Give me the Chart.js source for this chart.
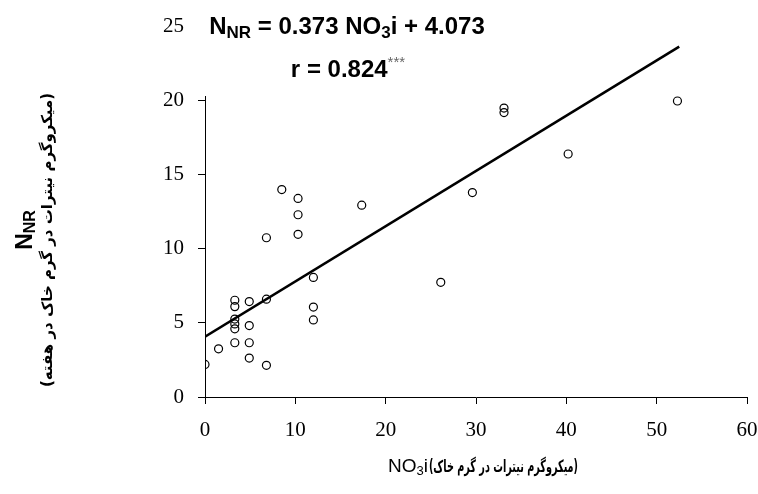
<!DOCTYPE html>
<html lang="fa">
<head>
  <meta charset="UTF-8" />
  <title>NNR vs NO3i</title>
  <script src="https://cdn.jsdelivr.net/npm/chart.js"></script>
  <style>
    html, body { margin: 0; padding: 0; background: #fff; }
    canvas { display: block; }
  </style>
</head>
<body>
  <canvas id="chart" width="758" height="494"></canvas>

  <script>
    // نقاط مشاهده شده
    const no3i = [0, 1.5, 3.3, 3.3, 3.3, 3.3, 3.3, 3.3, 4.9, 4.9, 4.9, 4.9,
                  6.8, 6.8, 6.8, 8.5, 10.3, 10.3, 10.3, 12.0, 12.0, 12.0,
                  17.35, 26.1, 29.6, 33.1, 33.1, 40.2, 52.3];
    const nnr = [2.2, 3.25, 6.53, 6.1, 5.26, 4.93, 4.6, 3.66, 6.44, 4.82, 3.66, 2.63,
                 6.6, 2.14, 10.75, 14.0, 13.4, 12.3, 10.98, 8.07, 6.07, 5.2,
                 12.95, 7.74, 13.8, 19.5, 19.2, 16.4, 19.98];

    // خط رگرسیون (دو سر خط)
    const fitX = [0, 52.5];
    const fitY = [4.07, 23.65];

    const xTicks = [0, 10, 20, 30, 40, 50, 60];
    const yTicks = [0, 5, 10, 15, 20, 25];

    const eqLine1 = [["N", "n"], ["NR", "sub"], [" = 0.373 NO", "n"], ["3", "sub"], ["i + 4.073", "n"]];
    const eqLine2 = [["r = 0.824", "n"], ["***", "sup"]];
    const yTitle1 = [["N", "n"], ["NR", "sub"]];
    const yTitle2 = "(میکروگرم نیترات در گرم خاک در هفته)";
    const xTitle1 = [["NO", "n"], ["3", "sub"], ["i", "n"]];
    const xTitle2 = "(میکروگرم نیترات در گرم خاک)";

    const SANS = "'Liberation Sans', Arial, sans-serif";
    const FA = "bold 15px 'DejaVu Sans', sans-serif";

    function runFont(kind, size, weight) {
      if (kind === "sub") return weight + " " + Math.round(size * 0.7) + "px " + SANS;
      if (kind === "sup") return "normal " + Math.round(size * 0.62) + "px " + SANS;
      return weight + " " + size + "px " + SANS;
    }

    // اندازه کل یک سطر با زیرنویس
    function runsWidth(ctx, runs, size, weight) {
      let w = 0;
      runs.forEach(([t, k]) => { ctx.font = runFont(k, size, weight); w += ctx.measureText(t).width; });
      return w;
    }

    function drawRuns(ctx, runs, x, y, size, weight, align) {
      const w = runsWidth(ctx, runs, size, weight);
      let cx = align === "left" ? x : x - w / 2;
      ctx.textAlign = "left";
      ctx.textBaseline = "alphabetic";
      runs.forEach(([t, k]) => {
        ctx.font = runFont(k, size, weight);
        let dy = 0;
        ctx.fillStyle = "#000";
        if (k === "sub") dy = size * 0.15;
        if (k === "sup") { dy = -size * 0.42; ctx.fillStyle = "#666"; }
        ctx.fillText(t, cx, y + dy);
        cx += ctx.measureText(t).width;
      });
      return w;
    }

    const textPlugin = {
      id: "texts",
      afterDraw(chart) {
        const ctx = chart.ctx;
        ctx.save();
        // کادر سفید معادله روی بالای محور
        ctx.fillStyle = "#fff";
        ctx.fillRect(188, 0, 312, 96);

        drawRuns(ctx, eqLine1, 347, 34, 24, "bold");
        drawRuns(ctx, eqLine2, 348, 77, 24, "bold");

        // عنوان محور عمودی
        ctx.save();
        ctx.translate(32, 230);
        ctx.rotate(-Math.PI / 2);
        drawRuns(ctx, yTitle1, 0, 0, 23, "bold");
        ctx.restore();

        ctx.save();
        ctx.translate(52, 240);
        ctx.rotate(-Math.PI / 2);
        ctx.direction = "rtl";
        ctx.textAlign = "center";
        ctx.textBaseline = "alphabetic";
        ctx.font = FA;
        ctx.fillStyle = "#000";
        ctx.fillText(yTitle2, 0, 0);
        ctx.restore();

        // عنوان محور افقی
        const left = 388;
        const w1 = drawRuns(ctx, xTitle1, left, 472, 19, "normal", "left");
        ctx.save();
        ctx.font = "bold 17px 'DejaVu Sans', sans-serif";
        const w2 = ctx.measureText(xTitle2).width;
        ctx.translate(left + w1 + 1, 472);
        ctx.scale((577 - left - w1) / w2, 1);
        ctx.direction = "ltr";
        ctx.fillStyle = "#000";
        ctx.textAlign = "left";
        ctx.fillText(xTitle2, 0, 0);
        ctx.restore();
        ctx.restore();
      }
    };

    const tickFont = { family: "'Liberation Serif', 'DejaVu Serif', serif", size: 21 };

    new Chart(document.getElementById("chart"), {
      type: "scatter",
      data: {
        datasets: [
          {
            type: "line",
            data: fitX.map((x, i) => ({ x: x, y: fitY[i] })),
            borderColor: "#000",
            borderWidth: 2.6,
            pointRadius: 0,
            fill: false,
            order: 0
          },
          {
            data: no3i.map((x, i) => ({ x: x, y: nnr[i] })),
            pointStyle: "circle",
            pointRadius: 4,
            pointBorderWidth: 1.2,
            borderColor: "#000",
            backgroundColor: "rgba(0,0,0,0)",
            clip: 0,
            order: 1
          }
        ]
      },
      options: {
        responsive: false,
        animation: false,
        devicePixelRatio: 1,
        layout: { padding: { top: 23, right: 0, left: 0, bottom: 0 } },
        plugins: { legend: { display: false }, tooltip: { enabled: false } },
        scales: {
          x: {
            type: "linear",
            min: 0, max: 60,
            afterFit(s) { s.height = 97; s.paddingRight = 11; s.paddingLeft = 0; },
            afterBuildTicks(s) { s.ticks = xTicks.map(v => ({ value: v })); },
            ticks: { color: "#000", font: tickFont, padding: 14, maxRotation: 0 },
            grid: { drawOnChartArea: false, color: "#000", tickLength: 7, lineWidth: 1 },
            border: { color: "#000", width: 1 }
          },
          y: {
            min: 0, max: 25,
            afterFit(s) { s.width = 205; },
            afterBuildTicks(s) { s.ticks = yTicks.map(v => ({ value: v })); },
            ticks: { color: "#000", font: tickFont, padding: 14 },
            grid: { drawOnChartArea: false, color: "#000", tickLength: 7, lineWidth: 1 },
            border: { color: "#000", width: 1 }
          }
        }
      },
      plugins: [textPlugin]
    });
  </script>
</body>
</html>
